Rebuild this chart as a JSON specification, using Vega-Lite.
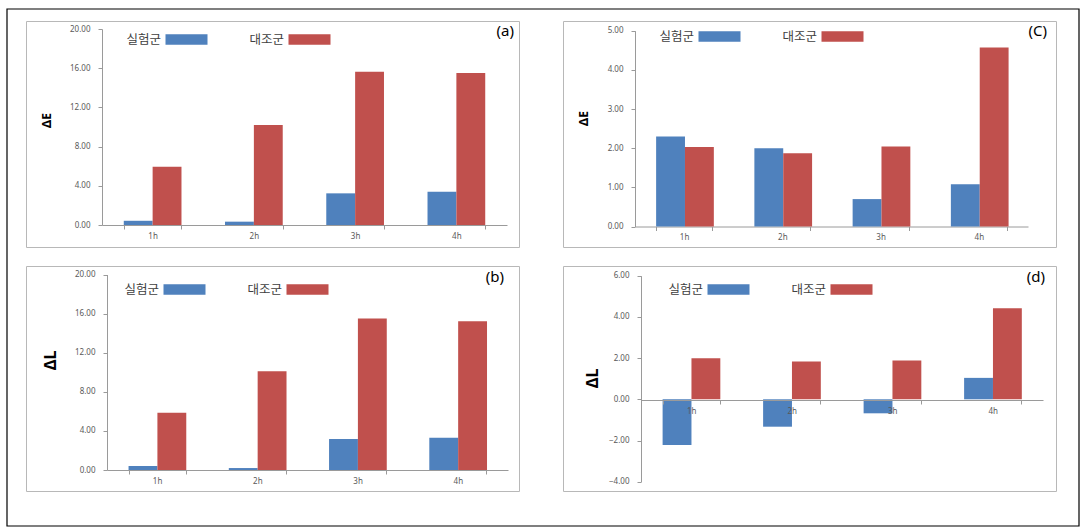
{
  "$schema": "https://vega.github.io/schema/vega-lite/v6.json",
  "padding": {"left": 7, "top": 9, "right": 0, "bottom": 0},
  "background": "white",
  "datasets": {
    "all": [
      {"panel": "a", "time": "1h", "group": "실험군", "value": 0.43},
      {"panel": "a", "time": "1h", "group": "대조군", "value": 5.95},
      {"panel": "a", "time": "2h", "group": "실험군", "value": 0.34},
      {"panel": "a", "time": "2h", "group": "대조군", "value": 10.2},
      {"panel": "a", "time": "3h", "group": "실험군", "value": 3.23},
      {"panel": "a", "time": "3h", "group": "대조군", "value": 15.65},
      {"panel": "a", "time": "4h", "group": "실험군", "value": 3.4},
      {"panel": "a", "time": "4h", "group": "대조군", "value": 15.5},
      {"panel": "b", "time": "1h", "group": "실험군", "value": 0.41},
      {"panel": "b", "time": "1h", "group": "대조군", "value": 5.86},
      {"panel": "b", "time": "2h", "group": "실험군", "value": 0.2},
      {"panel": "b", "time": "2h", "group": "대조군", "value": 10.09},
      {"panel": "b", "time": "3h", "group": "실험군", "value": 3.17},
      {"panel": "b", "time": "3h", "group": "대조군", "value": 15.5},
      {"panel": "b", "time": "4h", "group": "실험군", "value": 3.3},
      {"panel": "b", "time": "4h", "group": "대조군", "value": 15.23},
      {"panel": "c", "time": "1h", "group": "실험군", "value": 2.3},
      {"panel": "c", "time": "1h", "group": "대조군", "value": 2.03},
      {"panel": "c", "time": "2h", "group": "실험군", "value": 2.0},
      {"panel": "c", "time": "2h", "group": "대조군", "value": 1.87},
      {"panel": "c", "time": "3h", "group": "실험군", "value": 0.7},
      {"panel": "c", "time": "3h", "group": "대조군", "value": 2.04},
      {"panel": "c", "time": "4h", "group": "실험군", "value": 1.08},
      {"panel": "c", "time": "4h", "group": "대조군", "value": 4.57},
      {"panel": "d", "time": "1h", "group": "실험군", "value": -2.22},
      {"panel": "d", "time": "1h", "group": "대조군", "value": 1.99},
      {"panel": "d", "time": "2h", "group": "실험군", "value": -1.33},
      {"panel": "d", "time": "2h", "group": "대조군", "value": 1.83},
      {"panel": "d", "time": "3h", "group": "실험군", "value": -0.68},
      {"panel": "d", "time": "3h", "group": "대조군", "value": 1.88},
      {"panel": "d", "time": "4h", "group": "실험군", "value": 1.04},
      {"panel": "d", "time": "4h", "group": "대조군", "value": 4.42}
    ]
  },
  "bounds": "flush",
  "columns": 2,
  "spacing": {"row": 19, "column": 44},
  "concat": [
    {
      "width": 493, "height": 226,
      "data": {"name": "all"},
      "transform": [{"filter": "datum.panel === 'a'"}],
      "title": {"text": "(a)", "anchor": "end", "frame": "group", "offset": -6, "baseline": "top", "dx": -5, "dy": 12},
      "encoding": {
        "x": {"field": "time", "type": "nominal", "scale": {"range": [76, 481], "paddingInner": 0.43, "paddingOuter": 0.215},
              "axis": {"title": null, "offset": -22, "labelAngle": 0, "tickBand": "extent", "labelPadding": 3}},
        "xOffset": {"field": "group", "type": "nominal", "scale": {"domain": ["실험군", "대조군"]}},
        "y": {"field": "value", "type": "quantitative", "scale": {"domain": [0, 20], "range": [204, 8], "nice": false, "zero": false},
              "axis": {"values": [0, 4, 8, 12, 16, 20], "format": ".2f", "offset": -76, "labelPadding": 8, "title": "ΔE", "titleX": -56, "titleY": 99, "titleFontSize": 12}}
      },
      "layer": [
        {
          "mark": {"type": "bar"},
          "encoding": {
            "color": {"field": "group", "type": "nominal", "scale": {"domain": ["실험군", "대조군"], "range": ["#4F81BD", "#C0504D"]},
                      "legend": {"legendX": 150, "legendY": 8}}
          }
        },
        {
          "mark": {"type": "bar", "opacity": 0},
          "encoding": {
            "stroke": {"field": "value", "type": "quantitative",
                       "scale": {"range": ["rgba(255,255,255,0)", "rgba(255,255,255,0)"]},
                       "legend": {"orient": "none", "legendX": -19, "legendY": -12, "direction": "horizontal",
                                  "gradientLength": 1072, "gradientThickness": 517,
                                  "gradientStrokeColor": "#000000", "gradientStrokeWidth": 1.2,
                                  "labelExpr": "''", "labelFontSize": 0, "labelOpacity": 0, "labelOverlap": false,
                                  "title": null, "padding": 0}}
          }
        }
      ]
    },
    {
      "width": 493, "height": 226,
      "data": {"name": "all"},
      "transform": [{"filter": "datum.panel === 'c'"}],
      "title": {"text": "(C)", "anchor": "end", "frame": "group", "offset": -6, "baseline": "top", "dx": -9, "dy": 12},
      "mark": {"type": "bar"},
      "encoding": {
        "x": {"field": "time", "type": "nominal", "scale": {"range": [72, 465], "paddingInner": 0.43, "paddingOuter": 0.215},
              "axis": {"title": null, "offset": -20.5, "labelAngle": 0, "tickBand": "extent", "labelPadding": 3}},
        "xOffset": {"field": "group", "type": "nominal", "scale": {"domain": ["실험군", "대조군"]}},
        "y": {"field": "value", "type": "quantitative", "scale": {"domain": [0, 5], "range": [205.5, 9.7], "nice": false, "zero": false},
              "axis": {"values": [0, 1, 2, 3, 4, 5], "format": ".2f", "offset": -72, "labelPadding": 8, "title": "ΔE", "titleX": -52, "titleY": 97, "titleFontSize": 12}},
        "color": {"field": "group", "type": "nominal", "scale": {"domain": ["실험군", "대조군"], "range": ["#4F81BD", "#C0504D"]},
                  "legend": {"legendX": 146, "legendY": 5}}
      }
    },
    {
      "width": 493, "height": 225,
      "data": {"name": "all"},
      "transform": [{"filter": "datum.panel === 'b'"}],
      "title": {"text": "(b)", "anchor": "end", "frame": "group", "offset": -6, "baseline": "top", "dx": -15, "dy": 13},
      "mark": {"type": "bar"},
      "encoding": {
        "x": {"field": "time", "type": "nominal", "scale": {"range": [81, 482], "paddingInner": 0.43, "paddingOuter": 0.215},
              "axis": {"title": null, "offset": -21, "labelAngle": 0, "tickBand": "extent", "labelPadding": 3}},
        "xOffset": {"field": "group", "type": "nominal", "scale": {"domain": ["실험군", "대조군"]}},
        "y": {"field": "value", "type": "quantitative", "scale": {"domain": [0, 20], "range": [204, 8.5], "nice": false, "zero": false},
              "axis": {"values": [0, 4, 8, 12, 16, 20], "format": ".2f", "offset": -81, "labelPadding": 8, "title": "ΔL", "titleX": -57, "titleY": 94, "titleFontSize": 16}},
        "color": {"field": "group", "type": "nominal", "scale": {"domain": ["실험군", "대조군"], "range": ["#4F81BD", "#C0504D"]},
                  "legend": {"legendX": 148, "legendY": 13}}
      }
    },
    {
      "width": 493, "height": 225,
      "data": {"name": "all"},
      "transform": [{"filter": "datum.panel === 'd'"}],
      "title": {"text": "(d)", "anchor": "end", "frame": "group", "offset": -6, "baseline": "top", "dx": -11, "dy": 13},
      "mark": {"type": "bar"},
      "encoding": {
        "x": {"field": "time", "type": "nominal", "scale": {"range": [78, 480], "paddingInner": 0.43, "paddingOuter": 0.215},
              "axis": {"title": null, "offset": -91, "labelAngle": 0, "tickBand": "extent", "zindex": 1, "labelPadding": 3}},
        "xOffset": {"field": "group", "type": "nominal", "scale": {"domain": ["실험군", "대조군"]}},
        "y": {"field": "value", "type": "quantitative", "scale": {"domain": [-4, 6], "range": [215.7, 9.7], "nice": false, "zero": false},
              "axis": {"values": [-4, -2, 0, 2, 4, 6], "format": ".2f", "offset": -78, "labelPadding": 8, "title": "ΔL", "titleX": -49, "titleY": 112, "titleFontSize": 16}},
        "color": {"field": "group", "type": "nominal", "scale": {"domain": ["실험군", "대조군"], "range": ["#4F81BD", "#C0504D"]},
                  "legend": {"legendX": 155, "legendY": 13}}
      }
    }
  ],
  "resolve": {"scale": {"color": "independent"}, "legend": {"color": "independent"}},
  "config": {
    "view": {"stroke": "#b8b8b8", "strokeWidth": 1},
    "title": {"font": "Noto Sans", "fontSize": 15, "fontWeight": "normal", "color": "#000000"},
    "axis": {
      "grid": false,
      "labelFont": "Noto Sans", "labelFontSize": 8, "labelColor": "#595959",
      "domainColor": "#9a9a9a", "tickColor": "#9a9a9a", "tickSize": 4,
      "labelPadding": 6,
      "titleFont": "Noto Sans", "titleColor": "#000000", "titleFontWeight": "bold",
      "titleAngle": -90, "titleBaseline": "middle", "titleAlign": "center"
    },
    "legend": {
      "orient": "none", "direction": "horizontal", "title": null,
      "symbolType": "M-2,-0.5H2V0.5H-2Z", "symbolSize": 441, "symbolStrokeWidth": 0, "symbolOpacity": 1,
      "labelAlign": "right", "labelOffset": -36, "columnPadding": 41,
      "labelFont": "Noto Sans CJK KR", "labelFontSize": 12.5, "labelColor": "#404040",
      "padding": 0
    }
  }
}
